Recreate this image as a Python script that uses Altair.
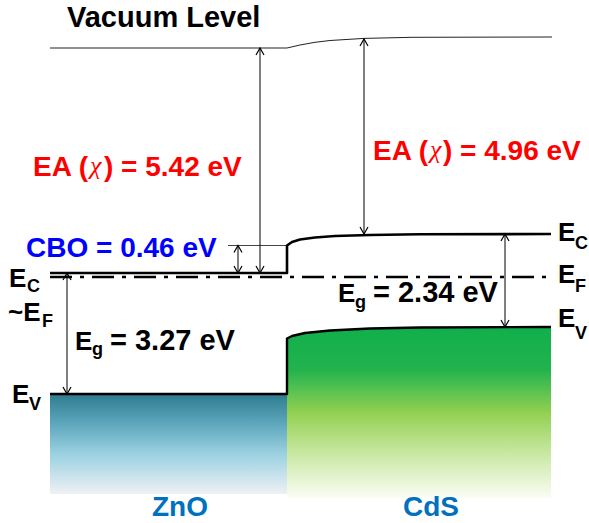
import altair as alt
import pandas as pd

W, H = 589, 523

# ---- band profiles (diagram coordinates: x across the junction, y measured downward) ----
vac_x = [50, 287, 300, 315, 330, 364, 412, 552]
vac_y = [48, 48, 45, 42.3, 40.5, 38.4, 37.3, 37]
ec_x = [50, 287, 287, 292, 300, 315, 335, 370, 420, 551]
ec_y = [273, 273, 245.5, 242, 239.5, 237.5, 236, 235, 234.3, 234]
ev_x = [50, 287, 287, 292, 305, 330, 370, 420, 551]
ev_y = [394, 394, 338.5, 336, 333, 330.5, 328.5, 327.5, 327]
ef_x = [50, 546]
ef_y = [277, 277]
cbo_x = [228, 287]
cbo_y = [245.5, 245.5]

zno_fill_x = [50, 287]
zno_fill_y = [394, 494]
cds_fill_bottom = 498

arrow_x = [260, 364, 238, 67, 505]
arrow_top = [48, 39, 245.5, 273, 234]
arrow_bottom = [273, 234, 273, 394, 327]

# ---- labels ----
big_text = ["Vacuum Level", "= 3.27 eV", "= 2.34 eV"]
big_x = [67, 110, 373]
big_y = [27, 350, 302]

red_text = ["EA (", ") = 5.42 eV", "EA (", ") = 4.96 eV"]
red_x = [33, 104, 373, 443]
red_y = [176, 176, 160, 160]

chi_text = ["χ", "χ"]
chi_x = [90, 430]
chi_y = [174, 158]

blue_text = ["CBO = 0.46 eV"]
blue_x = [26]
blue_y = [257]

e_text = ["E", "~E", "E", "E", "E", "E", "E", "E"]
e_x = [9, 8, 12, 558, 558, 558, 75, 338]
e_y = [287, 321, 403, 241, 283, 327, 350, 302]

sub_text = ["C", "F", "V", "C", "F", "V", "g", "g"]
sub_x = [27, 42, 29, 575, 575, 575, 92, 355]
sub_y = [292, 327, 410, 249, 292, 339, 355, 308]

mat_text = ["ZnO", "CdS"]
mat_x = [180, 431]
mat_y = [516, 516]

xs = alt.Scale(domain=[0, W], nice=False, zero=False)
ys = alt.Scale(domain=[0, H], nice=False, zero=False, reverse=True)


def X(f):
    return alt.X(f, type="quantitative", scale=xs, axis=None)


def Y(f):
    return alt.Y(f, type="quantitative", scale=ys, axis=None)


def line_df(xv, yv):
    return pd.DataFrame({"x": xv, "y": yv, "i": list(range(len(xv)))})


zno_grad = alt.Gradient(
    gradient="linear", x1=0, x2=0, y1=0, y2=1,
    stops=[
        alt.GradientStop(color="#2e7b90", offset=0),
        alt.GradientStop(color="#5ea7bc", offset=0.3),
        alt.GradientStop(color="#9bd1e1", offset=0.6),
        alt.GradientStop(color="#eef1f4", offset=1),
    ],
)
cds_grad = alt.Gradient(
    gradient="linear", x1=0, x2=0, y1=0, y2=1,
    stops=[
        alt.GradientStop(color="#10af4c", offset=0),
        alt.GradientStop(color="#22b34d", offset=0.25),
        alt.GradientStop(color="#5cc351", offset=0.38),
        alt.GradientStop(color="#92d050", offset=0.5),
        alt.GradientStop(color="#cbe9a6", offset=0.75),
        alt.GradientStop(color="#fafdf5", offset=1),
    ],
)

zno_fill = alt.Chart(pd.DataFrame({"x": [zno_fill_x[0]], "x2": [zno_fill_x[1]],
                                   "y": [zno_fill_y[0]], "y2": [zno_fill_y[1]]})).mark_rect(
    color=zno_grad).encode(x=X("x"), x2="x2", y=Y("y"), y2="y2")

cds_df = pd.DataFrame({"x": ev_x[2:], "y": ev_y[2:], "y2": [cds_fill_bottom] * len(ev_x[2:])})
cds_fill = alt.Chart(cds_df).mark_area(color=cds_grad).encode(x=X("x"), y=Y("y"), y2="y2")


def band_line(xv, yv, width, color="black", dash=None):
    kw = dict(color=color, strokeWidth=width, strokeJoin="round", strokeCap="butt")
    if dash:
        kw["strokeDash"] = dash
    return alt.Chart(line_df(xv, yv)).mark_line(**kw).encode(
        x=X("x"), y=Y("y"), order=alt.Order("i:Q"))


vac_line = band_line(vac_x, vac_y, 1, "#222222")
ec_line = band_line(ec_x, ec_y, 2.6)
ev_line = band_line(ev_x, ev_y, 2.4)
ef_line = band_line(ef_x, ef_y, 2.6, dash=[22, 8, 4, 8])
cbo_line = band_line(cbo_x, cbo_y, 1, "#444444")

arr_df = pd.DataFrame({"x": arrow_x, "top": arrow_top, "bottom": arrow_bottom})
shafts = alt.Chart(arr_df).mark_rule(color="black", strokeWidth=1).encode(
    x=X("x"), y=Y("top"), y2="bottom")
heads_up = alt.Chart(arr_df).mark_point(
    shape="M-4,7 L0,0 L4,7", size=4, filled=False, color="black", strokeWidth=1.2, opacity=1
).encode(x=X("x"), y=Y("top"))
heads_down = alt.Chart(arr_df).mark_point(
    shape="M-4,-7 L0,0 L4,-7", size=4, filled=False, color="black", strokeWidth=1.2, opacity=1
).encode(x=X("x"), y=Y("bottom"))


def text_layer(tv, xv, yv, size, color, align="left", font="Liberation Sans",
               weight="bold", style="normal"):
    df = pd.DataFrame({"t": tv, "x": xv, "y": yv})
    return alt.Chart(df).mark_text(
        align=align, baseline="alphabetic", font=font, fontWeight=weight,
        fontStyle=style, fontSize=size, color=color
    ).encode(x=X("x"), y=Y("y"), text="t:N")


t_big = text_layer(big_text, big_x, big_y, 29, "black")
t_red = text_layer(red_text, red_x, red_y, 28, "#ff0000")
t_chi = text_layer(chi_text, chi_x, chi_y, 26, "#ff0000", font="Liberation Serif",
                   weight="normal", style="italic")
t_blue = text_layer(blue_text, blue_x, blue_y, 28, "#0000ff")
t_e = text_layer(e_text, e_x, e_y, 26, "black")
t_sub = text_layer(sub_text, sub_x, sub_y, 18, "black")
t_mat = text_layer(mat_text, mat_x, mat_y, 28, "#0070c0", align="center")

chart = alt.layer(
    zno_fill, cds_fill, vac_line, cbo_line, ef_line, ec_line, ev_line,
    shafts, heads_up, heads_down,
    t_big, t_red, t_chi, t_blue, t_e, t_sub, t_mat,
).properties(
    width=W, height=H, padding=0, autosize=alt.AutoSizeParams(type="none"), background="white"
).configure_view(stroke=None)

chart.save("out.html", embed_options={"renderer": "svg", "actions": False})
